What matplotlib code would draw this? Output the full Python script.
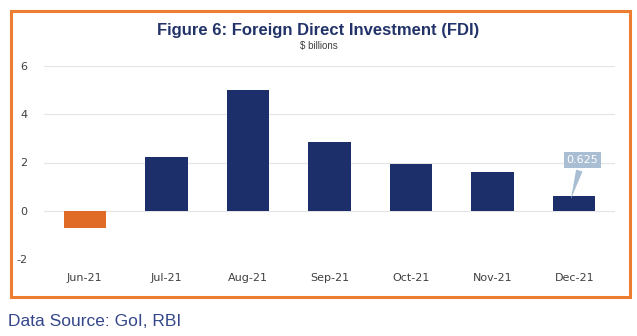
import numpy as np
import matplotlib.pyplot as plt
from matplotlib.patches import Rectangle

plt.rcParams['axes.unicode_minus'] = False

months = ['Jun-21', 'Jul-21', 'Aug-21', 'Sep-21', 'Oct-21', 'Nov-21', 'Dec-21']
fdi = [-0.7, 2.23, 5.02, 2.83, 1.92, 1.62, 0.625]
yticks = [-2, 0, 2, 4, 6]

fig = plt.figure(figsize=(6.37, 3.36), dpi=100)

# orange frame round the chart
fig.patches.append(Rectangle((11/637, 1 - 297/336), 619/637, 286/336,
                             transform=fig.transFigure, fill=False,
                             ec='#ed7d31', lw=2.2))

ax = fig.add_axes([44/637, 1 - 259/336, 571/637, 193/336])
x = np.arange(len(months))
cols = ['#e06b26' if v < 0 else '#1d2f6a' for v in fdi]
ax.bar(x, fdi, width=0.52, color=cols, zorder=3)

ax.set_xlim(-0.5, len(months) - 0.5)
ax.set_ylim(-2, 6)
ax.set_yticks(yticks)
ax.set_xticks(x)
ax.set_xticklabels(months)
ax.grid(axis='y', color='#e4e4e4', lw=0.8, zorder=0)
for s in ax.spines.values():
    s.set_visible(False)
ax.tick_params(length=0, labelsize=8, colors='#404040', pad=12)
ax.tick_params(axis='x', pad=10)

ax.annotate('%.3f' % fdi[-1], xy=(x[-1] - 0.05, fdi[-1] - 0.25),
            xytext=(x[-1] + 0.1, 2.1), ha='center', va='center',
            fontsize=8, color='white',
            bbox=dict(boxstyle='square,pad=0.25', fc='#a9bdd3', ec='none'),
            arrowprops=dict(arrowstyle='wedge,tail_width=0.6', fc='#a9bdd3',
                            ec='none'), zorder=4)

fig.text(0.5, 1 - 30/336, 'Figure 6: Foreign Direct Investment (FDI)',
         ha='center', va='center', fontsize=12, fontweight='bold',
         color='#223369', family=['Liberation Sans Narrow', 'Liberation Sans'])
fig.text(0.5, 1 - 46/336, '$ billions', ha='center', va='center',
         fontsize=7, color='#404040', family='Liberation Sans')
fig.text(8/637, 1 - 322/336, 'Data Source: GoI, RBI', ha='left',
         va='center', fontsize=12.5, color='#34478a', family='Liberation Sans')

plt.savefig('out.png', dpi=100)
